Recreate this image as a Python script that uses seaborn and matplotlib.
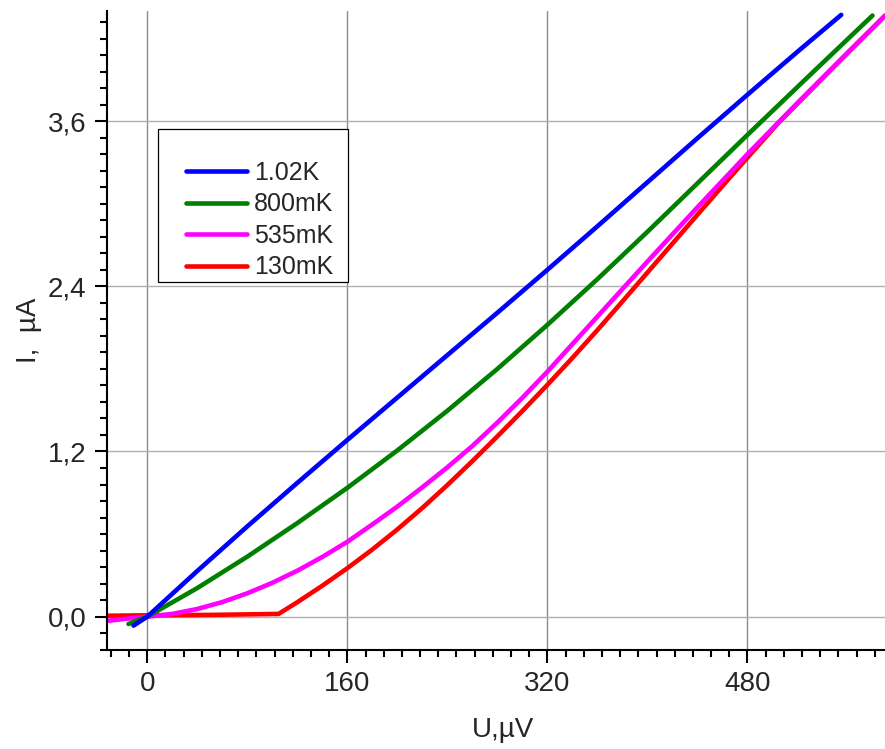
import pandas as pd
import matplotlib.pyplot as plt
import seaborn as sns
from matplotlib.ticker import AutoMinorLocator
from matplotlib.patches import Rectangle

# I-V curves, U in uV, I in uA
u_1K02 = [-11, 0, 40, 80, 120, 160, 200, 240, 280, 320, 360, 400, 440, 480, 520, 555]
i_1K02 = [-0.065, 0.0, 0.332, 0.656, 0.972, 1.284, 1.592, 1.9, 2.208, 2.52, 2.836, 3.156, 3.476, 3.792, 4.104, 4.372]

u_800 = [-15, 0, 40, 80, 120, 160, 200, 240, 280, 320, 360, 400, 440, 480, 530, 580]
i_800 = [-0.053, 0.0, 0.208, 0.436, 0.68, 0.936, 1.208, 1.496, 1.8, 2.12, 2.452, 2.796, 3.148, 3.5, 3.935, 4.367]

u_535 = [-32, -15, 0, 20, 40, 60, 80, 100, 120, 140, 160, 180, 200, 220, 240, 260, 280, 300, 320,
         360, 400, 440, 480, 520, 560, 590]
i_535 = [-0.03, -0.013, 0.0, 0.02, 0.056, 0.106, 0.17, 0.246, 0.334, 0.434, 0.544, 0.67, 0.8, 0.94, 1.085,
         1.24, 1.41, 1.59, 1.78, 2.18, 2.58, 2.974, 3.36, 3.732, 4.096, 4.366]

u_130 = [-32, 0, 50, 105, 120, 140, 160, 180, 200, 220, 240, 260, 280, 300, 320, 340, 360, 380,
         400, 420, 440, 463, 480, 505, 520, 560, 590]
i_130 = [0.007, 0.01, 0.013, 0.02, 0.105, 0.225, 0.352, 0.488, 0.634, 0.79, 0.956, 1.13, 1.31, 1.494,
         1.684, 1.88, 2.082, 2.29, 2.5, 2.71, 2.92, 3.16, 3.335, 3.59, 3.728, 4.094, 4.366]

labels = ['1.02K', '800mK', '535mK', '130mK']
colors = ['#0000ff', '#008000', '#ff00ff', '#ff0000']

x_ticks = [0, 160, 320, 480]
y_ticks = [0.0, 1.2, 2.4, 3.6]

frames = []
for lab, u, i in zip(labels, [u_1K02, u_800, u_535, u_130], [i_1K02, i_800, i_535, i_130]):
    frames.append(pd.DataFrame({'U': u, 'I': i, 'T': lab}))
df = pd.concat(frames, ignore_index=True)

sns.set_theme(style='ticks')
plt.rcParams['font.family'] = ['Liberation Sans', 'DejaVu Sans']

fig = plt.figure(figsize=(8.85, 7.49), dpi=100)
ax = fig.add_axes([107 / 885, 1 - 650 / 749, 778 / 885, 639 / 749])

# coldest first so warmer curves end up on top
for lab, col in zip(labels[::-1], colors[::-1]):
    sns.lineplot(data=df[df['T'] == lab], x='U', y='I', color=col, linewidth=3.3,
                 sort=False, estimator=None, ax=ax, label=lab, solid_capstyle='round')

ax.set_xlim(-32.2, 590)
ax.set_ylim(-0.242, 4.4)

ax.set_xticks(x_ticks)
ax.set_xticklabels([str(v) for v in x_ticks])
ax.set_yticks(y_ticks)
ax.set_yticklabels([f'{v:.1f}'.replace('.', ',') for v in y_ticks])
ax.xaxis.set_minor_locator(AutoMinorLocator(11))
ax.yaxis.set_minor_locator(AutoMinorLocator(10))

ax.tick_params(which='major', direction='out', length=9, width=1.5, labelsize=20, pad=6, color='black')
ax.tick_params(which='minor', direction='out', length=5, width=1.5, color='black')

ax.xaxis.grid(True, color='#8c8c8c', linewidth=1.0)
ax.yaxis.grid(True, color='#b0b0b0', linewidth=1.0)
ax.set_axisbelow(True)

for side in ['top', 'right']:
    ax.spines[side].set_visible(False)
for side in ['left', 'bottom']:
    ax.spines[side].set_linewidth(1.5)
    ax.spines[side].set_color('black')

ax.set_xlabel('U,µV', fontsize=20)
ax.set_ylabel('I,  µA', fontsize=20)
ax.xaxis.set_label_coords(0.509, -0.105)
ax.yaxis.set_label_coords(-0.083, 0.5)

# legend box
ax.add_patch(Rectangle((0.0656, 0.5759), 0.2442, 0.2394, transform=ax.transAxes,
                       facecolor='white', edgecolor='black', linewidth=0.9, zorder=3))
handles, labs = ax.get_legend_handles_labels()
leg = ax.legend(handles[::-1], labs[::-1], loc='upper left', bbox_to_anchor=(0.1015, 0.7655),
                frameon=False, borderpad=0, borderaxespad=0, handlelength=2.44,
                handletextpad=0.28, labelspacing=0.3, fontsize=18)
leg.set_zorder(5)

fig.savefig('out.png', dpi=100)
